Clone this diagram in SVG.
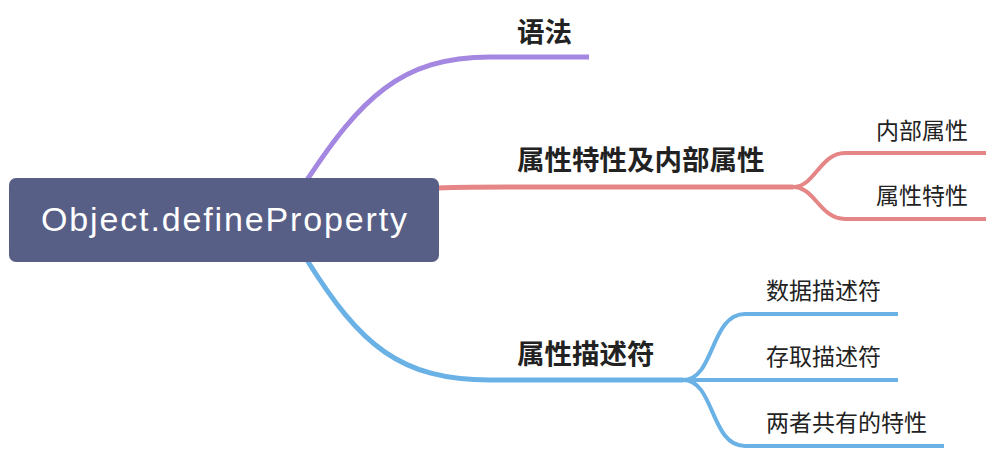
<svg xmlns="http://www.w3.org/2000/svg" width="994" height="452" viewBox="0 0 994 452">
<style>
.br{fill:none;stroke-linecap:butt;stroke-width:5}
.sb{fill:none;stroke-width:4}
.p{stroke:#a487e0}
.r{stroke:#e58585}
.b{stroke:#6ab1e6}
.t1{font-family:"Noto Sans CJK SC","Noto Sans",sans-serif;font-weight:bold;font-size:27.5px;fill:#222}
.t2{font-family:"Noto Sans CJK SC","Noto Sans",sans-serif;font-size:23px;fill:#222}
.root{font-family:"Liberation Sans",Arial,sans-serif;font-size:34px;fill:#fff}
</style>
<rect width="994" height="452" fill="#fff"/>
<g id="connectors">
<path class="br p" d="M307,180 C360,100 400,57 490,57 L589,57"/>
<path class="br r" d="M437,188 C470,187 480,187 520,187 L793,187"/>
<path class="br b" d="M307,260 C360,345 400,380 490,380 L683,380"/>
<path class="sb r" d="M793,187 C815,187 820,153 845,153 L986,153"/>
<path class="sb r" d="M793,187 C815,187 820,219 845,219 L986,219"/>
<path class="sb b" d="M683,380 C715,380 710,314 745,314 L898,314"/>
<path class="sb b" d="M683,380 L898,380"/>
<path class="sb b" d="M683,380 C715,380 710,446 745,446 L944,446"/>
</g>
<g id="root">
<rect x="9" y="178" width="430" height="84" rx="7" fill="#585f87"/>
<text class="root" x="41" y="231" textLength="366" lengthAdjust="spacing">Object.defineProperty</text>
</g>
<g id="n-yufa"><text class="t1" x="517" y="42">语法</text></g>
<g id="n-attr"><text class="t1" x="517" y="170">属性特性及内部属性</text></g>
<g id="n-desc"><text class="t1" x="517" y="364">属性描述符</text></g>
<g id="n-internal"><text class="t2" x="876" y="139">内部属性</text></g>
<g id="n-feature"><text class="t2" x="876" y="204">属性特性</text></g>
<g id="n-data"><text class="t2" x="766" y="299">数据描述符</text></g>
<g id="n-access"><text class="t2" x="766" y="365">存取描述符</text></g>
<g id="n-common"><text class="t2" x="766" y="431">两者共有的特性</text></g>
</svg>
